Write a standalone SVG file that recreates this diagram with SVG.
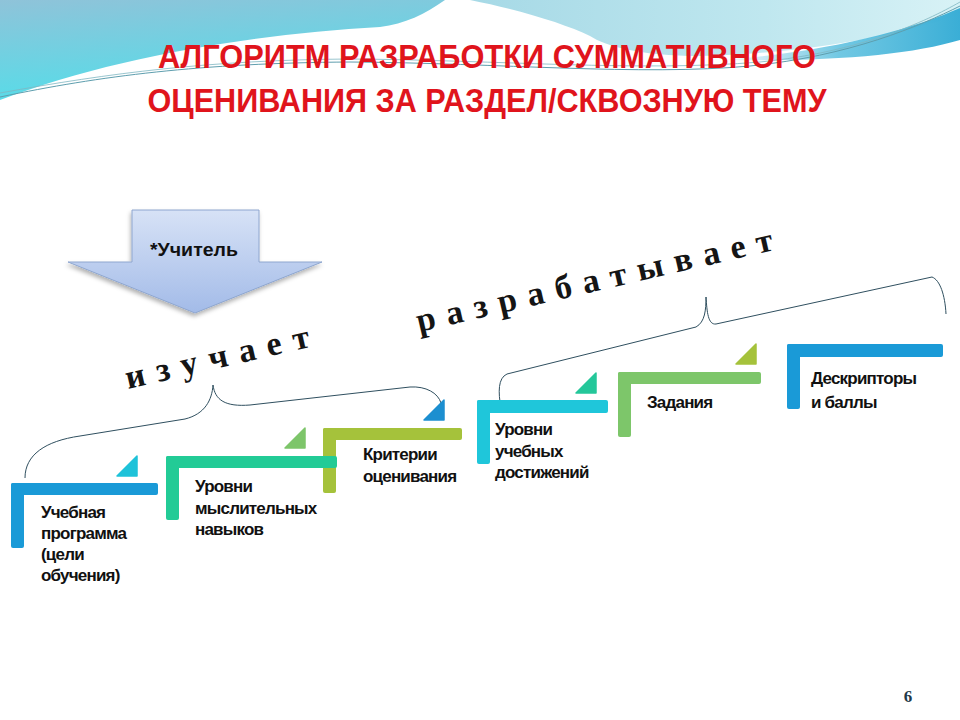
<svg xmlns="http://www.w3.org/2000/svg" width="960" height="720" viewBox="0 0 960 720">
<defs>
<linearGradient id="skyL" x1="0" y1="0" x2="0.3" y2="1">
<stop offset="0" stop-color="#8FC3D9"/>
<stop offset="1" stop-color="#55DDE9"/>
</linearGradient>
<linearGradient id="skyR" x1="0" y1="0" x2="1" y2="0">
<stop offset="0" stop-color="#A6D9E6"/>
<stop offset="0.6" stop-color="#BFE7EF"/>
<stop offset="1" stop-color="#D8F2F6"/>
</linearGradient>
<linearGradient id="band" x1="0" y1="0" x2="1" y2="0">
<stop offset="0" stop-color="#3FB3D8" stop-opacity="0"/>
<stop offset="0.5" stop-color="#4DBADC" stop-opacity="0.8"/>
<stop offset="1" stop-color="#3AAED6"/>
</linearGradient>
<linearGradient id="arrowG" x1="0" y1="0" x2="0" y2="1">
<stop offset="0" stop-color="#D7E2F6"/>
<stop offset="1" stop-color="#A3BBE8"/>
</linearGradient>
<filter id="sh" x="-20%" y="-20%" width="140%" height="150%">
<feDropShadow dx="-1" dy="3" stdDeviation="2" flood-color="#000" flood-opacity="0.3"/>
</filter>
<style>
.lbl{font-family:"Liberation Sans",Arial,sans-serif;font-weight:bold;font-size:17px;fill:#111;letter-spacing:-0.8px}
.ttl{font-family:"Liberation Sans",Arial,sans-serif;font-weight:bold;font-size:34px;fill:#E0141C;text-anchor:middle}
.verb{font-family:"Liberation Serif","Times New Roman",serif;font-weight:bold;font-size:34px;fill:#151515}
.con{fill:none;stroke:#2F4F5F;stroke-width:1}
</style>
</defs>
<rect width="960" height="720" fill="#FFFFFF"/>
<g id="background">
<path d="M0,0 H445 C 425,14 405,24 380,27 C 250,34 110,58 0,100 Z" fill="url(#skyL)"/>
<path d="M470,0 H960 V14 C 900,36 800,54 700,56 C 640,56 605,46 590,36 C 565,24 520,10 470,0 Z" fill="url(#skyR)"/>
<path d="M720,60 C 830,52 910,30 960,8 V40 C 910,55 830,62 720,60 Z" fill="url(#band)"/>
<path d="M0,97 C 100,76 200,63 350,62 C 500,63 640,76 750,66 C 850,56 920,26 960,6" fill="none" stroke="#5E9EAE" stroke-width="1"/>
<path d="M0,93 C 110,73 210,60 350,59 C 500,60 640,72 760,62 C 860,52 925,22 960,2" fill="none" stroke="#7FB6C2" stroke-width="0.8"/>
</g>
<g id="title">
<text class="ttl" x="487" y="68" textLength="658" lengthAdjust="spacingAndGlyphs">АЛГОРИТМ РАЗРАБОТКИ СУММАТИВНОГО</text>
<text class="ttl" x="487" y="112" textLength="679" lengthAdjust="spacingAndGlyphs">ОЦЕНИВАНИЯ ЗА РАЗДЕЛ/СКВОЗНУЮ ТЕМУ</text>
</g>
<g id="teacher">
<polygon points="132,210 259,210 259,262 322,262 195,313 68,262 132,262" fill="url(#arrowG)" stroke="#8EA6CF" stroke-width="1" filter="url(#sh)"/>
<text x="194" y="256" text-anchor="middle" textLength="88" lengthAdjust="spacingAndGlyphs" style="font-family:'Liberation Sans',Arial,sans-serif;font-weight:bold;font-size:19px;fill:#111">*Учитель</text>
</g>
<g id="connectors">
<path class="con" d="M25,478 C 25,455 45,441 80,436 L 185,419 C 205,414 212,400 213,385 C 215,400 225,407 250,405 L 410,387 C 426,386 438,393 441,403"/>
<path class="con" d="M501,408 C 498,392 498,378 507,374 L 696,327 C 705,322 706,310 706,297 C 707,312 708,325 716,324 L 932,277 C 940,280 945,295 946,314"/>
</g>
<g id="verbs">
<text class="verb" x="128" y="389" transform="rotate(-13 128 389)" textLength="188" lengthAdjust="spacing">и з у ч а е т</text>
<text class="verb" x="419" y="332" transform="rotate(-13 419 332)" textLength="365" lengthAdjust="spacing">р а з р а б а т ы в а е т</text>
</g>
<g id="step1">
<rect x="11" y="483" width="147" height="12" rx="2" fill="#1A9AD7"/>
<rect x="11" y="483" width="13" height="65" rx="2" fill="#1A9AD7"/>
<polygon points="117,476 137,456 137,476" fill="#1EC2D9" stroke="#1EC2D9" stroke-linejoin="round" stroke-width="1.5"/>
<text class="lbl" x="41"><tspan x="41" y="518">Учебная</tspan><tspan x="41" y="539">программа</tspan><tspan x="41" y="560">(цели</tspan><tspan x="41" y="581">обучения)</tspan></text>
</g>
<g id="step3">
<rect x="323" y="428" width="139" height="12" rx="2" fill="#A5C23B"/>
<rect x="323" y="428" width="13" height="65" rx="2" fill="#A5C23B"/>
<polygon points="424,420 444,400 444,420" fill="#1C8FD0" stroke="#1C8FD0" stroke-linejoin="round" stroke-width="1.5"/>
<text class="lbl"><tspan x="363" y="460">Критерии</tspan><tspan x="363" y="482">оценивания</tspan></text>
</g>
<g id="step2">
<rect x="166" y="456" width="171" height="12" rx="2" fill="#22CB96"/>
<rect x="166" y="456" width="13" height="64" rx="2" fill="#22CB96"/>
<polygon points="285,448 305,428 305,448" fill="#7DC56A" stroke="#7DC56A" stroke-linejoin="round" stroke-width="1.5"/>
<text class="lbl"><tspan x="195" y="492">Уровни</tspan><tspan x="195" y="514">мыслительных</tspan><tspan x="195" y="535">навыков</tspan></text>
</g>
<g id="step4">
<rect x="477" y="400" width="131" height="13" rx="2" fill="#1FC6DA"/>
<rect x="477" y="400" width="13" height="64" rx="2" fill="#1FC6DA"/>
<polygon points="576,393 596,373 596,393" fill="#24C79A" stroke="#24C79A" stroke-linejoin="round" stroke-width="1.5"/>
<text class="lbl"><tspan x="495" y="435">Уровни</tspan><tspan x="495" y="457">учебных</tspan><tspan x="495" y="478">достижений</tspan></text>
</g>
<g id="step5">
<rect x="618" y="372" width="143" height="12" rx="2" fill="#7DC66A"/>
<rect x="618" y="372" width="13" height="65" rx="2" fill="#7DC66A"/>
<polygon points="736,364 756,344 756,364" fill="#A5C23B" stroke="#A5C23B" stroke-linejoin="round" stroke-width="1.5"/>
<text class="lbl" x="647" y="408">Задания</text>
</g>
<g id="step6">
<rect x="787" y="344" width="156" height="13" rx="2" fill="#1A9AD7"/>
<rect x="787" y="344" width="13" height="65" rx="2" fill="#1A9AD7"/>
<text class="lbl"><tspan x="811" y="384">Дескрипторы</tspan><tspan x="811" y="408">и баллы</tspan></text>
</g>
<text x="908" y="702" text-anchor="middle" style="font-family:'Liberation Serif','DejaVu Serif',serif;font-weight:bold;font-size:17px;fill:#1F3A4A">6</text>
</svg>
